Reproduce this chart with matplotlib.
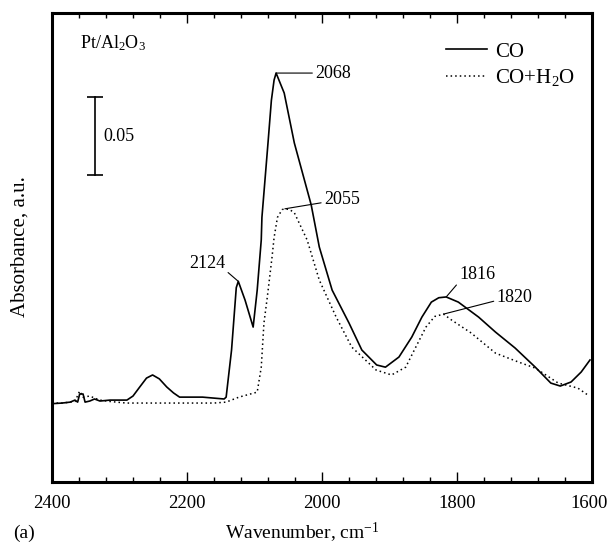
import numpy as np
import matplotlib
matplotlib.use("Agg")
import matplotlib.pyplot as plt
from matplotlib.transforms import ScaledTranslation

plt.rcParams['font.family'] = ['Liberation Serif', 'DejaVu Serif']
plt.rcParams['mathtext.fontset'] = 'custom'
plt.rcParams['mathtext.rm'] = 'Liberation Serif'
plt.rcParams['mathtext.it'] = 'Liberation Serif:italic'

# IR spectra of CO adsorbed on Pt/Al2O3 (absorbance above baseline)
wn_co = [2400, 2385, 2373, 2366, 2362, 2359, 2354, 2351, 2344, 2337, 2329, 2314,
         2289, 2280, 2270, 2260, 2251, 2241, 2230, 2220, 2211, 2177, 2145, 2142,
         2134, 2127, 2124, 2114, 2102, 2096, 2090, 2089, 2080, 2075, 2071, 2068,
         2056, 2041, 2016, 2004, 1985, 1960, 1941, 1919, 1906, 1886, 1867, 1852,
         1838, 1827, 1816, 1798, 1768, 1743, 1714, 1684, 1661, 1647, 1631, 1616,
         1603]
abs_co = [-0.0004, 0.0000, 0.0006, 0.0019, 0.0006, 0.0058, 0.0058, 0.0006, 0.0013,
          0.0026, 0.0013, 0.0019, 0.0019, 0.0045, 0.0103, 0.0160, 0.0180, 0.0155,
          0.0103, 0.0065, 0.0038, 0.0038, 0.0026, 0.0038, 0.0340, 0.0740, 0.0780,
          0.0660, 0.0487, 0.0724, 0.1045, 0.1190, 0.1667, 0.1940, 0.2070, 0.2115,
          0.1987, 0.1667, 0.1270, 0.1000, 0.0724, 0.0513, 0.0340, 0.0244, 0.0230,
          0.0295, 0.0423, 0.0551, 0.0647, 0.0675, 0.0680, 0.0647, 0.0551, 0.0455,
          0.0353, 0.0230, 0.0128, 0.0109, 0.0135, 0.0199, 0.0276]

wn_coh2o = [2400, 2385, 2373, 2366, 2359, 2354, 2344, 2337, 2329, 2314, 2290, 2250,
            2200, 2160, 2142, 2123, 2096, 2090, 2086, 2081, 2074, 2071, 2066, 2059,
            2055, 2048, 2041, 2022, 2004, 1979, 1956, 1920, 1897, 1876, 1861, 1846,
            1833, 1820, 1808, 1779, 1743, 1709, 1684, 1650, 1621, 1606]
abs_coh2o = [0.0000, 0.0000, 0.0006, 0.0010, 0.0077, 0.0038, 0.0045, 0.0032, 0.0019,
             0.0010, 0.0000, 0.0000, 0.0000, 0.0000, 0.0006, 0.0038, 0.0070, 0.0230,
             0.0513, 0.0680, 0.0936, 0.1060, 0.1190, 0.1240, 0.1245, 0.1240, 0.1220,
             0.1045, 0.0788, 0.0551, 0.0359, 0.0212, 0.0180, 0.0230, 0.0359, 0.0487,
             0.0555, 0.0570, 0.0532, 0.0449, 0.0320, 0.0263, 0.0224, 0.0128, 0.0096,
             0.0051]

scale_bar = 0.05

fig = plt.figure(figsize=(6.09, 5.45), dpi=100)
ax = fig.add_axes([52 / 609, 63 / 545, 540 / 609, 469 / 545])

ax.plot(wn_co, abs_co, color='black', lw=1.2, label='CO')
ax.plot(wn_coh2o, abs_coh2o, color='black', lw=1.1, linestyle=(0, (1, 2)),
        label='CO+H$_2$O')

ax.set_xlim(2400, 1600)
ax.set_ylim(-0.0506, 0.25)
ax.set_xticks(np.arange(2400, 1599, -200))
ax.set_xticks(np.arange(2400, 1599, -40), minor=True)
ax.set_yticks([])
ax.tick_params(axis='x', which='both', direction='in', top=True, bottom=True,
               labelsize=13.5, pad=9)
ax.tick_params(axis='x', which='major', length=7, width=1)
ax.tick_params(axis='x', which='minor', length=3.5, width=1)
for sp in ax.spines.values():
    sp.set_linewidth(2.2)

# keep the last tick label inside the figure
fig.canvas.draw()
last = ax.get_xticklabels()[-1]
last.set_transform(last.get_transform() + ScaledTranslation(-3 / 100, 0, fig.dpi_scale_trans))

# peak labels: (wavenumber, series, offset in pixels, text alignment, line anchor)
labels = [
    (2068, wn_co, abs_co, (39, 0), 'left', (0, 0.5)),
    (2124, wn_co, abs_co, (-13, 18), 'right', (1, 0.1)),
    (1816, wn_co, abs_co, (13, 22), 'left', (0, 0.1)),
    (2055, wn_coh2o, abs_coh2o, (39, 9), 'left', (0, 0.35)),
    (1820, wn_coh2o, abs_coh2o, (53, 17), 'left', (0, 0.3)),
]
for pk, wx, ay, off, ha, rel in labels:
    yv = np.interp(pk, wx[::-1], ay[::-1])
    ax.annotate(str(pk), xy=(pk, yv), xytext=off, textcoords='offset pixels',
                ha=ha, va='center', fontsize=13,
                arrowprops=dict(arrowstyle='-', lw=0.8, color='black',
                                shrinkA=0, shrinkB=0, relpos=rel))

# absorbance scale bar
bar_x, bar_y0 = 2336, 0.146
ax.plot([bar_x, bar_x], [bar_y0, bar_y0 + scale_bar], color='black', lw=1.2)
ax.plot([bar_x, bar_x], [bar_y0, bar_y0 + scale_bar], color='black', lw=0,
        marker='_', markersize=11, markeredgewidth=1.2)
ax.text(bar_x - 12, bar_y0 + scale_bar / 2, '0.05', ha='left', va='center',
        fontsize=13)

ax.text(0.052, 0.936, 'Pt/Al$_2$O$_3$', transform=ax.transAxes, ha='left',
        va='center', fontsize=13)

ax.legend(loc='upper right', bbox_to_anchor=(0.9685, 0.938), frameon=False,
          fontsize=15, handlelength=1.97, handletextpad=0.38, labelspacing=0.25,
          borderpad=0, borderaxespad=0)

fig.text(20 / 609, 1 - 247 / 545, 'Absorbance, a.u.', rotation=90,
         ha='center', va='center', fontsize=15)
fig.text(302 / 609, 1 - 533 / 545, 'Wavenumber, cm$^{-1}$', ha='center',
         va='center', fontsize=14)
fig.text(24 / 609, 1 - 533 / 545, '(a)', ha='center', va='center', fontsize=14)

fig.savefig('out.png', dpi=100)
